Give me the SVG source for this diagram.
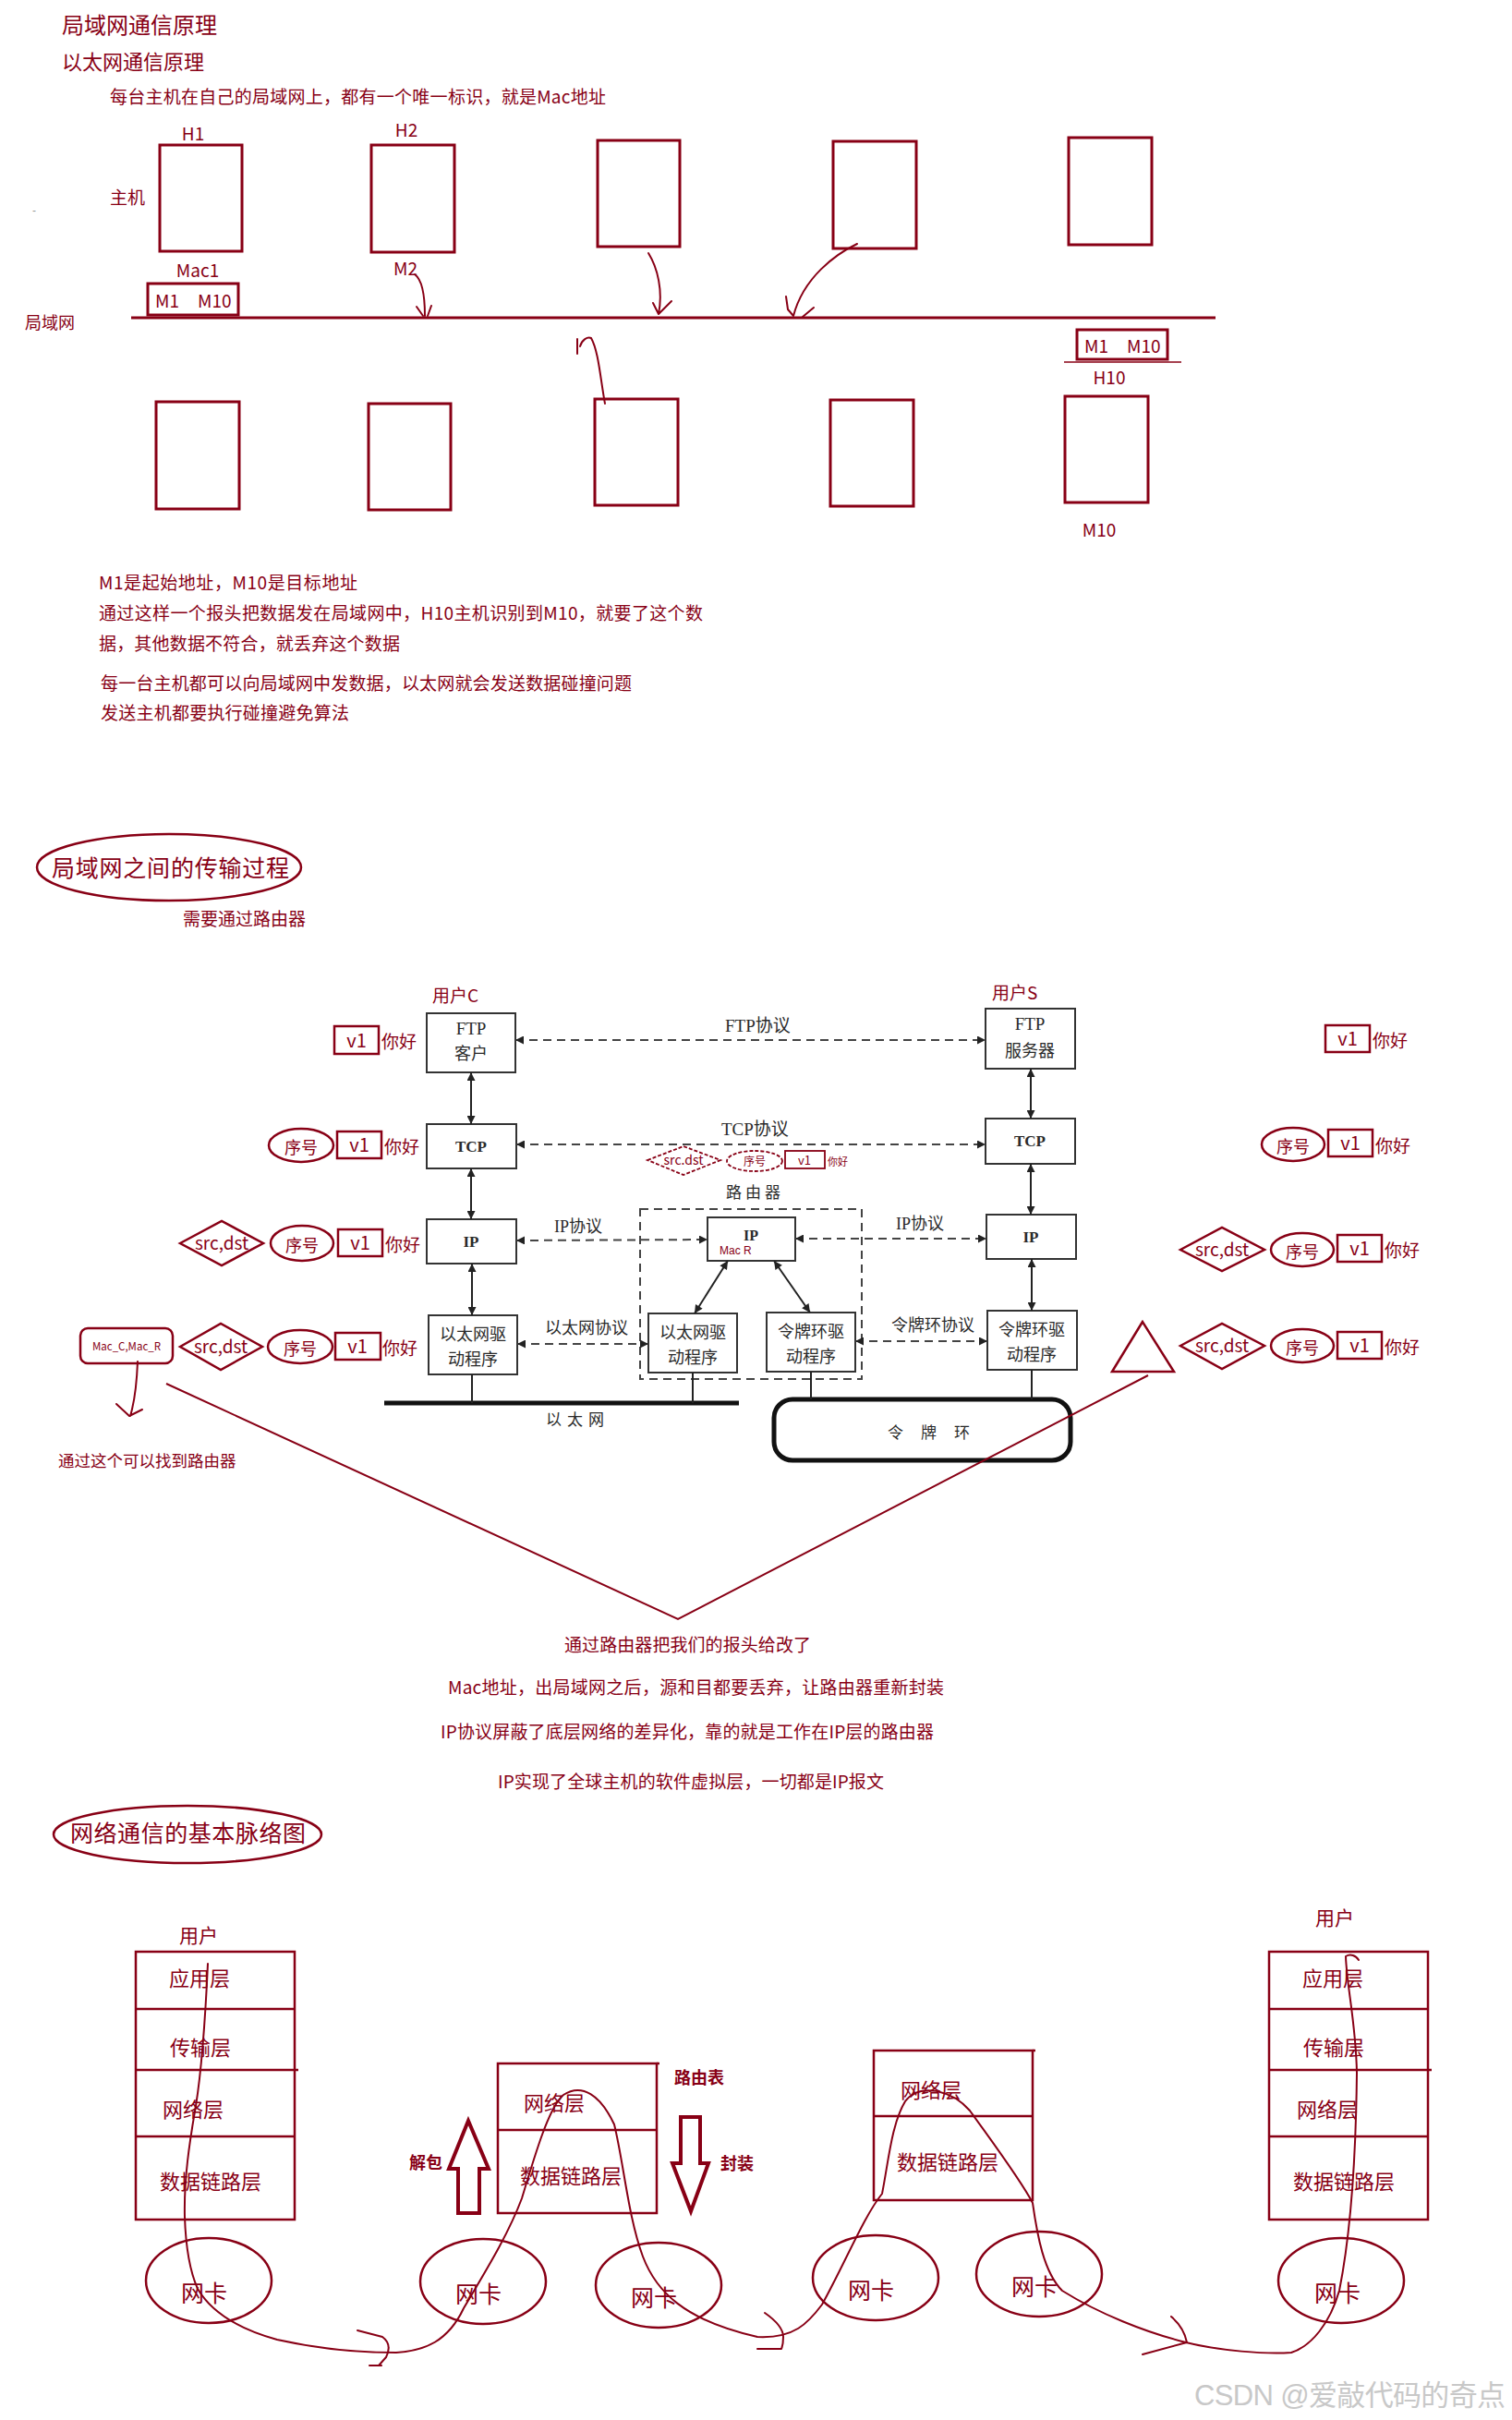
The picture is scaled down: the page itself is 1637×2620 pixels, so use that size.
<svg xmlns="http://www.w3.org/2000/svg" width="1637" height="2620" viewBox="0 0 1637 2620">
<defs>
<style>
.r{font-family:"Noto Sans CJK SC","Liberation Sans",sans-serif;fill:#880015}
.box{fill:none;stroke:#880015;stroke-width:3}
.rb{fill:none;stroke:#880015;stroke-width:2.5}
.hand{fill:none;stroke:#880015;stroke-width:2;stroke-linecap:round;stroke-linejoin:round}
.g{font-family:"Liberation Serif","Noto Sans CJK SC",serif;fill:#2a2a2a}
.gb{fill:#fff;stroke:#333;stroke-width:2}
.dash{fill:none;stroke:#444;stroke-width:2;stroke-dasharray:9 6}
.sol{fill:none;stroke:#222;stroke-width:2}
.rd{fill:none;stroke:#880015;stroke-width:1.8;stroke-dasharray:4 2}
</style>
<marker id="ah" viewBox="0 0 10 10" refX="10" refY="5" markerWidth="13" markerHeight="9" markerUnits="userSpaceOnUse" orient="auto-start-reverse"><path d="M0,0 L10,5 L0,10 z" fill="#222"/></marker>
</defs>
<rect width="1637" height="2620" fill="#fff"/>

<!-- Section 1 -->
<g id="sec1-text">
<text class="r" x="67" y="36" font-size="24">局域网通信原理</text>
<text class="r" x="67" y="75" font-size="22">以太网通信原理</text>
<text class="r" x="119" y="112" font-size="19" textLength="537">每台主机在自己的局域网上，都有一个唯一标识，就是Mac地址</text>
<text class="r" x="119" y="221" font-size="19">主机</text>
<text x="35" y="232" font-size="12" fill="#999" font-family="Liberation Sans,sans-serif">-</text>
<text class="r" x="27" y="356" font-size="18">局域网</text>
</g>
<g id="host-h1"><rect class="box" x="173" y="157" width="89" height="115"/><text class="r" x="209" y="152" font-size="19" text-anchor="middle">H1</text><text class="r" x="214" y="300" font-size="19" text-anchor="middle">Mac1</text></g>
<g id="host-h2"><rect class="box" x="402" y="157" width="90" height="116"/><text class="r" x="440" y="148" font-size="19" text-anchor="middle">H2</text><text class="r" x="439" y="298" font-size="19" text-anchor="middle">M2</text></g>
<g id="host-3"><rect class="box" x="647" y="152" width="89" height="115"/></g>
<g id="host-4"><rect class="box" x="902" y="153" width="90" height="116"/></g>
<g id="host-5"><rect class="box" x="1157" y="149" width="90" height="116"/></g>
<g id="header-h1"><rect class="box" x="160" y="307" width="98" height="34"/><text class="r" x="168" y="333" font-size="19">M1</text><text class="r" x="214" y="333" font-size="19">M10</text></g>
<g id="header-h10"><rect class="box" x="1166" y="357" width="98" height="32"/><text class="r" x="1174" y="382" font-size="19">M1</text><text class="r" x="1220" y="382" font-size="19">M10</text><line x1="1152" y1="392" x2="1279" y2="392" stroke="#880015" stroke-width="1.5"/><text class="r" x="1201" y="416" font-size="19" text-anchor="middle">H10</text></g>
<g id="host-b1"><rect class="box" x="169" y="435" width="90" height="116"/></g>
<g id="host-b2"><rect class="box" x="399" y="437" width="89" height="115"/></g>
<g id="host-b3"><rect class="box" x="644" y="432" width="90" height="115"/></g>
<g id="host-b4"><rect class="box" x="899" y="433" width="90" height="115"/></g>
<g id="host-m10"><rect class="box" x="1153" y="429" width="90" height="115"/><text class="r" x="1190" y="581" font-size="19" text-anchor="middle">M10</text></g>
<g id="sec1-connectors">
<line x1="142" y1="344" x2="1316" y2="344" stroke="#880015" stroke-width="3"/>
<path class="hand" d="M449,297 Q460,305 460,342 M451,332 L458,342 M467,331 L463,342"/>
<path class="hand" d="M702,274 C712,290 718,315 713,340 M707,328 L713,340 L727,326"/>
<path class="hand" d="M928,264 C905,275 870,300 859,342 M851,321 L853,335 L859,342 M881,333 L869,343"/>
<path class="hand" d="M625,367 L625,383 M628,375 C630,368 636,364 640,366 C648,380 650,410 655,437"/>
</g>
<g id="sec1-notes">
<text class="r" x="107" y="638" font-size="19" textLength="280">M1是起始地址，M10是目标地址</text>
<text class="r" x="107" y="671" font-size="19" textLength="654">通过这样一个报头把数据发在局域网中，H10主机识别到M10，就要了这个数</text>
<text class="r" x="107" y="704" font-size="19" textLength="326">据，其他数据不符合，就丢弃这个数据</text>
<text class="r" x="109" y="747" font-size="19" textLength="575">每一台主机都可以向局域网中发数据，以太网就会发送数据碰撞问题</text>
<text class="r" x="109" y="779" font-size="19" textLength="269">发送主机都要执行碰撞避免算法</text>
</g>

<!-- Section 2 -->
<g id="title2"><ellipse class="rb" cx="183" cy="939" rx="143" ry="36"/><text class="r" x="56" y="949" font-size="25" textLength="257">局域网之间的传输过程</text><text class="r" x="198" y="1002" font-size="19">需要通过路由器</text></g>

<g id="node-ftp-c"><text class="r" x="468" y="1085" font-size="19">用户C</text><rect class="gb" x="462" y="1097" width="96" height="64"/><text class="g" x="510" y="1120" font-size="19" text-anchor="middle">FTP</text><text class="g" x="510" y="1147" font-size="18" text-anchor="middle">客户</text></g>
<g id="node-tcp-c"><rect class="gb" x="462" y="1217" width="97" height="48"/><text class="g" x="510" y="1247" font-size="17" font-weight="bold" text-anchor="middle">TCP</text></g>
<g id="node-ip-c"><rect class="gb" x="462" y="1320" width="97" height="48"/><text class="g" x="510" y="1350" font-size="17" font-weight="bold" text-anchor="middle">IP</text></g>
<g id="node-eth-c"><rect class="gb" x="464" y="1424" width="96" height="64"/><text class="g" x="512" y="1451" font-size="18" text-anchor="middle">以太网驱</text><text class="g" x="512" y="1478" font-size="18" text-anchor="middle">动程序</text></g>

<g id="node-ftp-s"><text class="r" x="1074" y="1082" font-size="19">用户S</text><rect class="gb" x="1067" y="1092" width="97" height="65"/><text class="g" x="1115" y="1115" font-size="19" text-anchor="middle">FTP</text><text class="g" x="1115" y="1144" font-size="18" text-anchor="middle">服务器</text></g>
<g id="node-tcp-s"><rect class="gb" x="1067" y="1211" width="97" height="49"/><text class="g" x="1115" y="1241" font-size="17" font-weight="bold" text-anchor="middle">TCP</text></g>
<g id="node-ip-s"><rect class="gb" x="1068" y="1315" width="97" height="48"/><text class="g" x="1116" y="1345" font-size="17" font-weight="bold" text-anchor="middle">IP</text></g>
<g id="node-token-s"><rect class="gb" x="1069" y="1419" width="97" height="64"/><text class="g" x="1117" y="1446" font-size="18" text-anchor="middle">令牌环驱</text><text class="g" x="1117" y="1473" font-size="18" text-anchor="middle">动程序</text></g>

<g id="node-router"><rect x="693" y="1309" width="240" height="184" fill="none" stroke="#444" stroke-width="2" stroke-dasharray="9 6"/><text class="g" x="786" y="1297" font-size="17" letter-spacing="4">路由器</text></g>
<g id="node-router-ip"><rect class="gb" x="766" y="1318" width="95" height="47"/><text class="g" x="813" y="1343" font-size="16" font-weight="bold" text-anchor="middle">IP</text><text x="779" y="1358" font-size="12" fill="#880015" font-family="Liberation Sans,sans-serif">Mac  R</text></g>
<g id="node-router-eth"><rect class="gb" x="702" y="1422" width="96" height="64"/><text class="g" x="750" y="1449" font-size="18" text-anchor="middle">以太网驱</text><text class="g" x="750" y="1476" font-size="18" text-anchor="middle">动程序</text></g>
<g id="node-router-token"><rect class="gb" x="830" y="1421" width="96" height="64"/><text class="g" x="878" y="1448" font-size="18" text-anchor="middle">令牌环驱</text><text class="g" x="878" y="1475" font-size="18" text-anchor="middle">动程序</text></g>
<g id="node-ethernet"><line x1="416" y1="1519" x2="800" y2="1519" stroke="#111" stroke-width="5"/><text class="g" x="591" y="1543" font-size="17" letter-spacing="6">以太网</text></g>
<g id="node-token-ring"><rect x="838" y="1515" width="321" height="66" rx="20" fill="#fff" stroke="#111" stroke-width="5"/><text class="g" x="961" y="1557" font-size="17" letter-spacing="19">令牌环</text></g>

<g id="connectors">
<line class="sol" x1="510" y1="1161" x2="510" y2="1217" marker-start="url(#ah)" marker-end="url(#ah)"/>
<line class="sol" x1="510" y1="1265" x2="510" y2="1320" marker-start="url(#ah)" marker-end="url(#ah)"/>
<line class="sol" x1="511" y1="1368" x2="511" y2="1424" marker-start="url(#ah)" marker-end="url(#ah)"/>
<line class="sol" x1="1116" y1="1157" x2="1116" y2="1211" marker-start="url(#ah)" marker-end="url(#ah)"/>
<line class="sol" x1="1116" y1="1260" x2="1116" y2="1315" marker-start="url(#ah)" marker-end="url(#ah)"/>
<line class="sol" x1="1117" y1="1363" x2="1117" y2="1419" marker-start="url(#ah)" marker-end="url(#ah)"/>
<line class="sol" x1="788" y1="1365" x2="752" y2="1422" marker-start="url(#ah)" marker-end="url(#ah)"/>
<line class="sol" x1="838" y1="1365" x2="877" y2="1421" marker-start="url(#ah)" marker-end="url(#ah)"/>
<line class="dash" x1="558" y1="1126" x2="1067" y2="1126" marker-start="url(#ah)" marker-end="url(#ah)"/>
<line class="dash" x1="559" y1="1239" x2="1067" y2="1239" marker-start="url(#ah)" marker-end="url(#ah)"/>
<line class="dash" x1="559" y1="1343" x2="766" y2="1342" marker-start="url(#ah)" marker-end="url(#ah)"/>
<line class="dash" x1="861" y1="1341" x2="1068" y2="1341" marker-start="url(#ah)" marker-end="url(#ah)"/>
<line class="dash" x1="560" y1="1455" x2="702" y2="1455" marker-start="url(#ah)" marker-end="url(#ah)"/>
<line class="dash" x1="926" y1="1452" x2="1069" y2="1452" marker-start="url(#ah)" marker-end="url(#ah)"/>
<line class="sol" x1="511" y1="1488" x2="511" y2="1519"/>
<line class="sol" x1="750" y1="1486" x2="750" y2="1519"/>
<line class="sol" x1="878" y1="1485" x2="878" y2="1515"/>
<line class="sol" x1="1117" y1="1483" x2="1117" y2="1515"/>
<text class="g" x="785" y="1117" font-size="19">FTP协议</text>
<text class="g" x="781" y="1229" font-size="19">TCP协议</text>
<text class="g" x="600" y="1334" font-size="18">IP协议</text>
<text class="g" x="970" y="1331" font-size="18">IP协议</text>
<text class="g" x="590" y="1444" font-size="18">以太网协议</text>
<text class="g" x="965" y="1441" font-size="18">令牌环协议</text>
</g>

<g id="hdr-left-ftp"><rect class="rb" x="362" y="1111" width="48" height="30"/><text class="r" x="386" y="1134" font-size="20" text-anchor="middle">v1</text><text class="r" x="413" y="1135" font-size="19">你好</text></g>
<g id="hdr-left-tcp"><ellipse class="rb" cx="326" cy="1240" rx="35" ry="18"/><text class="r" x="326" y="1249" font-size="18" text-anchor="middle">序号</text><rect class="rb" x="365" y="1225" width="48" height="29"/><text class="r" x="389" y="1247" font-size="20" text-anchor="middle">v1</text><text class="r" x="416" y="1249" font-size="19">你好</text></g>
<g id="hdr-left-ip"><polygon class="rb" points="195,1346 240,1322 285,1346 240,1370"/><text class="r" x="240" y="1353" font-size="19" text-anchor="middle">src,dst</text><ellipse class="rb" cx="327" cy="1346" rx="34" ry="19"/><text class="r" x="327" y="1355" font-size="18" text-anchor="middle">序号</text><rect class="rb" x="366" y="1331" width="48" height="29"/><text class="r" x="390" y="1353" font-size="20" text-anchor="middle">v1</text><text class="r" x="417" y="1355" font-size="19">你好</text></g>
<g id="hdr-left-eth"><rect class="rb" x="87" y="1438" width="100" height="38" rx="8"/><text class="r" x="137" y="1462" font-size="11.5" text-anchor="middle">Mac_C,Mac_R</text><polygon class="rb" points="195,1458 239,1433 284,1458 239,1483"/><text class="r" x="239" y="1465" font-size="19" text-anchor="middle">src,dst</text><ellipse class="rb" cx="325" cy="1458" rx="35" ry="18"/><text class="r" x="325" y="1467" font-size="18" text-anchor="middle">序号</text><rect class="rb" x="363" y="1443" width="49" height="29"/><text class="r" x="387" y="1465" font-size="20" text-anchor="middle">v1</text><text class="r" x="414" y="1467" font-size="19">你好</text></g>
<g id="hdr-router"><polygon class="rd" points="701,1256 740,1241 780,1256 740,1272"/><text class="r" x="740" y="1261" font-size="14" text-anchor="middle">src.dst</text><ellipse class="rd" cx="817" cy="1257" rx="30" ry="11"/><text class="r" x="817" y="1262" font-size="12" text-anchor="middle">序号</text><rect x="850" y="1246" width="43" height="19" fill="none" stroke="#880015" stroke-width="1.8"/><text class="r" x="871" y="1261" font-size="13" text-anchor="middle">v1</text><text class="r" x="896" y="1262" font-size="11">你好</text></g>
<g id="hdr-right-ftp"><rect class="rb" x="1435" y="1110" width="48" height="29"/><text class="r" x="1459" y="1132" font-size="20" text-anchor="middle">v1</text><text class="r" x="1486" y="1134" font-size="19">你好</text></g>
<g id="hdr-right-tcp"><ellipse class="rb" cx="1400" cy="1239" rx="34" ry="18"/><text class="r" x="1400" y="1248" font-size="18" text-anchor="middle">序号</text><rect class="rb" x="1438" y="1223" width="48" height="29"/><text class="r" x="1462" y="1245" font-size="20" text-anchor="middle">v1</text><text class="r" x="1489" y="1248" font-size="19">你好</text></g>
<g id="hdr-right-ip"><polygon class="rb" points="1278,1353 1323,1329 1369,1353 1323,1376"/><text class="r" x="1323" y="1360" font-size="19" text-anchor="middle">src,dst</text><ellipse class="rb" cx="1410" cy="1353" rx="34" ry="18"/><text class="r" x="1410" y="1362" font-size="18" text-anchor="middle">序号</text><rect class="rb" x="1448" y="1337" width="48" height="29"/><text class="r" x="1472" y="1359" font-size="20" text-anchor="middle">v1</text><text class="r" x="1499" y="1361" font-size="19">你好</text></g>
<g id="hdr-right-token"><polygon class="rb" points="1278,1457 1323,1433 1369,1457 1323,1482"/><text class="r" x="1323" y="1464" font-size="19" text-anchor="middle">src,dst</text><ellipse class="rb" cx="1410" cy="1457" rx="34" ry="18"/><text class="r" x="1410" y="1466" font-size="18" text-anchor="middle">序号</text><rect class="rb" x="1448" y="1442" width="48" height="29"/><text class="r" x="1472" y="1464" font-size="20" text-anchor="middle">v1</text><text class="r" x="1499" y="1466" font-size="19">你好</text></g>
<g id="triangle"><polygon class="rb" points="1237,1431 1204,1485 1271,1485"/></g>
<g id="red-marks">
<path class="hand" d="M149,1474 C148,1500 145,1520 141,1533 M126,1520 L140,1533 L154,1526"/>
<polyline fill="none" stroke="#880015" stroke-width="2" points="180,1498 734,1753 1243,1489"/>
</g>
<g id="sec2-notes">
<text class="r" x="63" y="1588" font-size="17.5">通过这个可以找到路由器</text>
<text class="r" x="611" y="1788" font-size="19" textLength="267">通过路由器把我们的报头给改了</text>
<text class="r" x="485" y="1834" font-size="19" textLength="537">Mac地址，出局域网之后，源和目都要丢弃，让路由器重新封装</text>
<text class="r" x="477" y="1882" font-size="19" textLength="534">IP协议屏蔽了底层网络的差异化，靠的就是工作在IP层的路由器</text>
<text class="r" x="539" y="1936" font-size="19" textLength="418">IP实现了全球主机的软件虚拟层，一切都是IP报文</text>
</g>

<!-- Section 3 -->
<g id="title3"><ellipse class="rb" cx="203" cy="1986" rx="145" ry="31"/><text class="r" x="76" y="1994" font-size="25" textLength="255">网络通信的基本脉络图</text></g>
<g id="stack-left"><text class="r" x="194" y="2103" font-size="21">用户</text><rect class="rb" x="147" y="2113" width="172" height="290"/><line class="rb" x1="147" y1="2175" x2="319" y2="2175"/><line class="rb" x1="147" y1="2241" x2="323" y2="2241"/><line class="rb" x1="147" y1="2313" x2="319" y2="2313"/><text class="r" x="183" y="2150" font-size="22">应用层</text><text class="r" x="184" y="2225" font-size="22">传输层</text><text class="r" x="176" y="2292" font-size="22">网络层</text><text class="r" x="173" y="2370" font-size="22">数据链路层</text></g>
<g id="stack-router1"><rect class="rb" x="539" y="2234" width="172" height="162"/><line class="rb" x1="711" y1="2234" x2="714" y2="2234"/><line class="rb" x1="539" y1="2306" x2="711" y2="2306"/><text class="r" x="567" y="2285" font-size="22">网络层</text><text class="r" x="563" y="2364" font-size="22">数据链路层</text><text class="r" x="730" y="2256" font-size="18" font-weight="bold">路由表</text></g>
<g id="arrow-unpack"><polygon points="507,2296 529,2348 519,2348 519,2396 496,2396 496,2348 486,2348" fill="none" stroke="#880015" stroke-width="4" stroke-linejoin="miter"/><text class="r" x="443" y="2348" font-size="18" font-weight="bold">解包</text></g>
<g id="arrow-pack"><polygon points="737,2292 758,2292 758,2342 767,2342 748,2394 728,2342 737,2342" fill="none" stroke="#880015" stroke-width="4"/><text class="r" x="780" y="2349" font-size="18" font-weight="bold">封装</text></g>
<g id="stack-router2"><rect class="rb" x="946" y="2220" width="172" height="162"/><line class="rb" x1="1118" y1="2220" x2="1121" y2="2220"/><line class="rb" x1="946" y1="2291" x2="1118" y2="2291"/><text class="r" x="975" y="2271" font-size="22">网络层</text><text class="r" x="971" y="2349" font-size="22">数据链路层</text></g>
<g id="stack-right"><text class="r" x="1424" y="2084" font-size="21">用户</text><rect class="rb" x="1374" y="2113" width="172" height="290"/><line class="rb" x1="1374" y1="2175" x2="1546" y2="2175"/><line class="rb" x1="1374" y1="2241" x2="1550" y2="2241"/><line class="rb" x1="1374" y1="2313" x2="1546" y2="2313"/><text class="r" x="1410" y="2150" font-size="22">应用层</text><text class="r" x="1411" y="2225" font-size="22">传输层</text><text class="r" x="1404" y="2292" font-size="22">网络层</text><text class="r" x="1400" y="2370" font-size="22">数据链路层</text></g>
<g id="nic-1"><ellipse class="rb" cx="226" cy="2469" rx="68" ry="46"/><text class="r" x="196" y="2492" font-size="25">网卡</text></g>
<g id="nic-2"><ellipse class="rb" cx="523" cy="2470" rx="68" ry="46"/><text class="r" x="493" y="2493" font-size="25">网卡</text></g>
<g id="nic-3"><ellipse class="rb" cx="713" cy="2474" rx="68" ry="46"/><text class="r" x="683" y="2497" font-size="25">网卡</text></g>
<g id="nic-4"><ellipse class="rb" cx="948" cy="2466" rx="68" ry="46"/><text class="r" x="918" y="2489" font-size="25">网卡</text></g>
<g id="nic-5"><ellipse class="rb" cx="1125" cy="2462" rx="68" ry="46"/><text class="r" x="1095" y="2485" font-size="25">网卡</text></g>
<g id="nic-6"><ellipse class="rb" cx="1452" cy="2469" rx="68" ry="46"/><text class="r" x="1423" y="2492" font-size="25">网卡</text></g>
<g id="data-path">
<path class="hand" d="M225,2126 C223,2170 220,2230 212,2280 C205,2320 199,2360 200,2400 C201,2430 206,2460 214,2478 C230,2505 260,2522 300,2533 C340,2542 380,2547 429,2547 C460,2545 485,2535 502,2499 C525,2460 550,2420 565,2380 C580,2330 595,2280 610,2268 C630,2255 650,2268 665,2300 C675,2340 680,2400 696,2443 C710,2480 740,2512 820,2530 C860,2532 875,2515 890,2495 C915,2450 935,2400 955,2375 C962,2340 965,2300 980,2275 C995,2255 1030,2262 1050,2285 C1075,2320 1105,2360 1118,2385 C1123,2420 1130,2460 1150,2480 C1190,2505 1240,2525 1284,2536 C1320,2545 1370,2549 1398,2547 C1420,2540 1440,2515 1450,2480 C1462,2420 1468,2340 1469,2244 C1468,2190 1458,2150 1457,2118 C1462,2115 1468,2117 1471,2122"/>
<path class="hand" d="M387,2523 L414,2530 Q425,2538 418,2552 L410,2561 M400,2561 L413,2561"/>
<path class="hand" d="M828,2504 Q848,2518 848,2530 Q848,2538 846,2543 M820,2543 L846,2543"/>
<path class="hand" d="M1268,2508 Q1282,2520 1285,2536 L1237,2549"/>
</g>
<text x="1293" y="2604" font-size="31" fill="#c8c8c8" font-family="Liberation Sans,Noto Sans CJK SC,sans-serif" textLength="337">CSDN @爱敲代码的奇点</text>
</svg>
